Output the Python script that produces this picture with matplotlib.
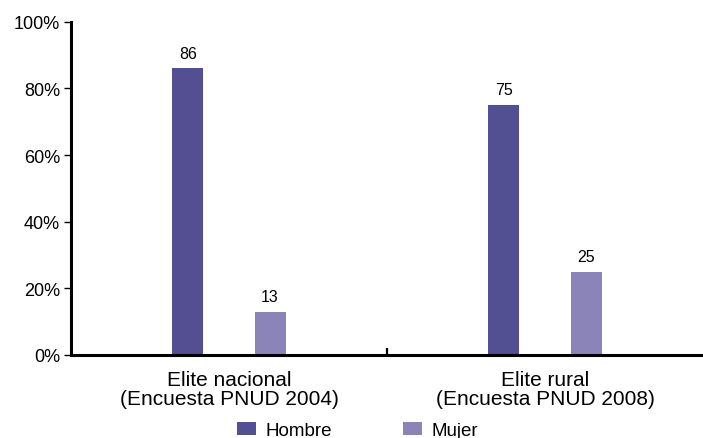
import numpy as np
import matplotlib.pyplot as plt

plt.rcParams['font.family'] = ['Liberation Sans', 'DejaVu Sans']

groups = ['Elite nacional\n(Encuesta PNUD 2004)', 'Elite rural\n(Encuesta PNUD 2008)']
series = ['Hombre', 'Mujer']
hombre = [86, 75]
mujer = [13, 25]
yticks = [0, 20, 40, 60, 80, 100]
ytick_labels = ['0%', '20%', '40%', '60%', '80%', '100%']
colors = ['#524F93', '#8A84B8']

fig = plt.figure(figsize=(7.03, 4.39), dpi=100)
ax = fig.add_axes([71/703, 1-356/439, 1-71/703, 333.3/439])

x = np.array([0.5, 1.5])
w = 0.098
off = 0.13
b1 = ax.bar(x - off, hombre, w, color=colors[0], label=series[0])
b2 = ax.bar(x + off, mujer, w, color=colors[1], label=series[1])
for b in (b1, b2):
    ax.bar_label(b, padding=5.5, fontsize=11.5)

ax.set_xlim(0, 2)
ax.set_ylim(0, 100)
ax.set_yticks(yticks)
ax.set_yticklabels(ytick_labels, fontsize=13)
ax.tick_params(axis='y', length=5, width=1, pad=3)
ax.set_xticks(x)
ax.set_xticklabels(groups, fontsize=15, linespacing=1.05)
ax.tick_params(axis='x', length=0, pad=10.5)
ax.set_xticks([1.0], minor=True)
ax.tick_params(axis='x', which='minor', direction='in', length=5, width=1.6)

for s in ['top', 'right']:
    ax.spines[s].set_visible(False)
for s in ['left', 'bottom']:
    ax.spines[s].set_linewidth(2.2)

fig.legend(handles=[b1, b2], labels=series, loc='center', bbox_to_anchor=(0.5085, 0.017),
           ncol=2, frameon=False, fontsize=13.5, handlelength=1.0, handleheight=0.7,
           handletextpad=0.5, columnspacing=3.8, borderpad=0)

fig.savefig('out.png', dpi=100)
